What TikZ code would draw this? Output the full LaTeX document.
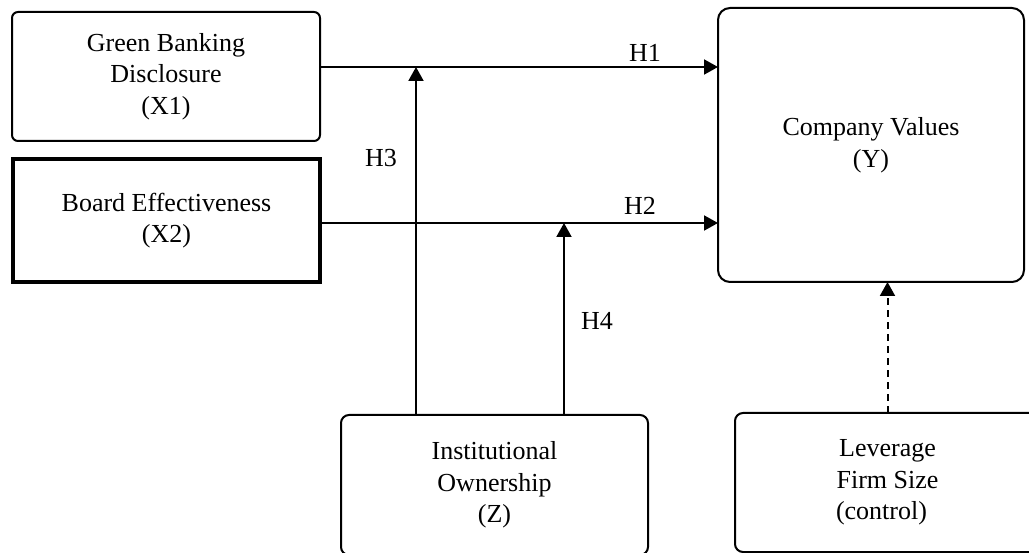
\documentclass[tikz,border=0pt]{standalone}
\usepackage{fontspec}
\setmainfont{Liberation Serif}
\usetikzlibrary{arrows.meta,calc}
\begin{document}
\begin{tikzpicture}[x=1pt,y=-1pt,
  txt/.style={font=\fontsize{26}{31.5}\selectfont, align=center, inner sep=0pt},
  box/.style={txt, draw, line width=2pt, rectangle, outer sep=0pt},
  arr/.style={line width=2pt, -{Triangle[length=14pt,width=15pt]}},
  hlab/.style={font=\fontsize{26}{31.5}\selectfont, inner sep=0pt, anchor=base}]
\useasboundingbox (0,0) rectangle (1029,553);
\clip (0,0) rectangle (1029,553);
% boxes
\node[box, rounded corners=6pt, minimum width=308pt, minimum height=129pt] (gbd) at (166,76.5) {Green Banking\\Disclosure\\(X1)};
\node[box, line width=4pt, minimum width=307pt, minimum height=123pt] (be) at (166.5,220.5) {Board Effectiveness\\(X2)};
\node[box, rounded corners=12pt, minimum width=306pt, minimum height=274pt] (cv) at (871,145) {Company Values\\(Y)};
\node[box, rounded corners=8pt, minimum width=307pt, minimum height=140pt] (io) at (494.5,485) {Institutional\\Ownership\\(Z)};
\node[box, rounded corners=8pt, minimum width=305pt, minimum height=139pt] (lfs) at (887.5,482.5) {Leverage\\Firm Size\\(control)\hspace*{12pt}};
% junction coordinates on the main paths
\coordinate (j3) at (416,67);
\coordinate (j4) at (564,223);
% main paths
\draw[arr] (gbd.east |- j3) -- (cv.west |- j3);
\draw[arr] (be.east |- j4) -- (cv.west |- j4);
% moderating paths
\draw[arr] (io.north -| j3) -- (j3);
\draw[arr] (io.north -| j4) -- (j4);
% control path
\draw[arr, dash pattern=on 7pt off 5pt] (lfs.north) -- (lfs.north |- cv.south);
% labels
\node[hlab] (h1) at (645,62) {H1};
\node[hlab] (h2) at (640,215) {H2};
\node[hlab] (h3) at (381,167) {H3};
\node[hlab] (h4) at (597,330) {H4};
\end{tikzpicture}
\end{document}
